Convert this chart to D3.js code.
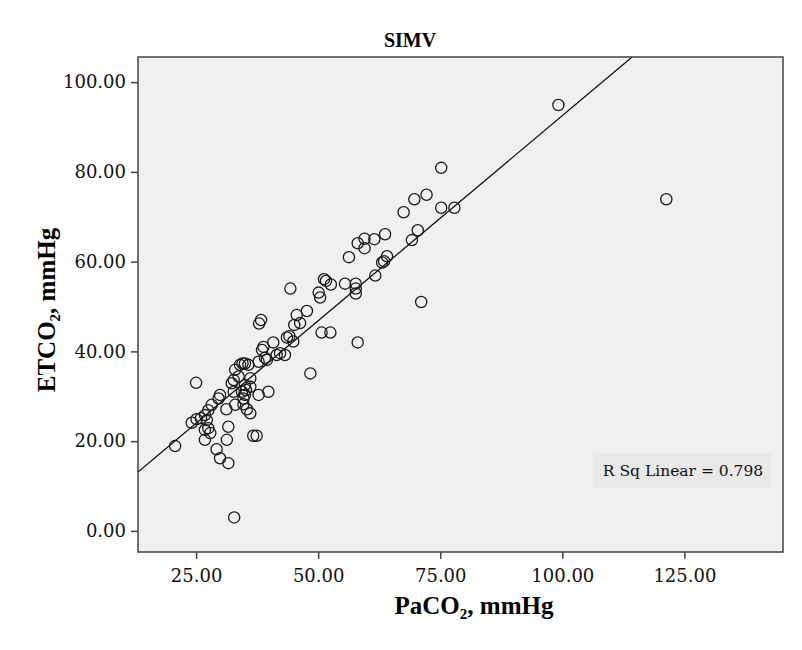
<!DOCTYPE html>
<html>
<head>
<meta charset="utf-8">
<script src="https://cdn.jsdelivr.net/npm/d3@7"></script>
<style>
  body { margin: 0; background: #fff; }
  svg { display: block; }
</style>
</head>
<body>
<svg id="chart" width="802" height="650"></svg>
<script>
// PaCO2 (x) and ETCO2 (y), mmHg
const paco2 = [
  99.2, 121.3, 75.2, 69.7, 72.2, 67.5, 75.2, 77.9, 70.4, 69.2,
  71.1, 63.7, 61.5, 59.5, 58.1, 59.5, 56.3, 64.1, 63.5, 63.1,
  61.7, 57.7, 57.7, 57.7, 55.5, 51.2, 51.6, 52.6, 50.1, 50.4,
  44.3, 45.6, 47.7, 46.3, 45.1, 50.7, 52.5, 58.1, 43.6, 44.1,
  44.9, 40.8, 38.8, 38.5, 42.2, 43.2, 41.5, 39.5, 37.8, 38.3,
  37.9, 48.4, 35.0, 35.7, 34.0, 34.5, 33.0, 33.7, 36.1, 32.7,
  32.3, 35.0, 36.1, 32.7, 34.4, 35.0, 34.7, 39.8, 37.8, 29.9,
  29.6, 33.0, 34.7, 31.2, 35.4, 36.1, 28.2, 27.5, 26.8, 25.0,
  20.7, 32.8, 24.1, 25.1, 26.0, 27.2, 26.8, 27.5, 26.8, 31.6,
  31.3, 29.2, 29.9, 31.6, 36.7, 37.4, 39.1, 35.2, 27.9
];
const etco2 = [
  94.9, 73.9, 80.9, 73.9, 74.9, 71.0, 72.0, 72.0, 67.0, 64.8,
  51.0, 66.1, 65.0, 65.1, 64.1, 63.0, 61.0, 61.2, 60.1, 59.8,
  56.9, 55.1, 54.0, 52.9, 55.1, 56.1, 55.7, 54.9, 53.1, 52.0,
  54.0, 48.1, 49.0, 46.3, 45.9, 44.2, 44.2, 42.0, 43.1, 43.4,
  42.2, 42.0, 41.0, 40.3, 39.6, 39.2, 39.2, 38.1, 37.7, 47.0,
  46.2, 35.1, 37.3, 37.0, 37.0, 37.3, 35.9, 34.4, 34.0, 33.6,
  32.9, 32.5, 32.1, 31.0, 31.0, 30.3, 29.5, 31.0, 30.3, 30.3,
  29.5, 28.1, 28.2, 27.1, 27.1, 26.2, 28.1, 26.9, 25.8, 33.0,
  18.9, 3.0, 24.1, 24.9, 25.1, 24.7, 22.5, 22.9, 20.3, 23.2,
  20.3, 18.2, 16.2, 15.1, 21.2, 21.2, 38.6, 31.4, 21.8
];
const xTicks = [25, 50, 75, 100, 125];
const yTicks = [0, 20, 40, 60, 80, 100];
const fitIntercept = 1.13;
const fitSlope = 0.914;
const rSqLabel = "R Sq Linear = 0.798";
const chartTitle = "SIMV";

const svg = d3.select("#chart");
const L = 138, T = 57, R = 783, B = 552;

const x = d3.scaleLinear().domain([13.1, 145.2]).range([L, R]);
const y = d3.scaleLinear().domain([-4.7, 105.6]).range([B, T]);
const fmt = d3.format(".2f");

// plot background
svg.append("rect")
  .attr("x", L).attr("y", T).attr("width", R - L).attr("height", B - T)
  .attr("fill", "#f0f0f0");

svg.append("defs").append("clipPath").attr("id", "clip")
  .append("rect").attr("x", L).attr("y", T).attr("width", R - L).attr("height", B - T);

// R sq label box
const boxG = svg.append("g");
boxG.append("rect")
  .attr("x", 593).attr("y", 453).attr("width", 178).attr("height", 35)
  .attr("fill", "#e9e9e9");
boxG.append("text")
  .attr("x", 683).attr("y", 476)
  .attr("text-anchor", "middle")
  .attr("font-family", "DejaVu Serif")
  .attr("font-size", 15.5)
  .attr("fill", "#111")
  .text(rSqLabel);

// fit line
const xd = x.domain();
svg.append("line")
  .attr("clip-path", "url(#clip)")
  .attr("x1", x(xd[0])).attr("y1", y(fitIntercept + fitSlope * xd[0]))
  .attr("x2", x(xd[1])).attr("y2", y(fitIntercept + fitSlope * xd[1]))
  .attr("stroke", "#111").attr("stroke-width", 1.3);

// points
const pts = paco2.map((v, i) => ({ x: v, y: etco2[i] }));
svg.append("g").attr("clip-path", "url(#clip)")
  .selectAll("circle").data(pts).join("circle")
  .attr("cx", d => x(d.x)).attr("cy", d => y(d.y))
  .attr("r", 5.6)
  .attr("fill", "none")
  .attr("stroke", "#1a1a1a")
  .attr("stroke-width", 1.3);

// frame
svg.append("rect")
  .attr("x", L).attr("y", T).attr("width", R - L).attr("height", B - T)
  .attr("fill", "none").attr("stroke", "#444").attr("stroke-width", 1.5);

// axes
const xAxis = svg.append("g")
  .attr("transform", `translate(0,${B})`)
  .call(d3.axisBottom(x).tickValues(xTicks).tickFormat(fmt).tickSize(7).tickPadding(10));
const yAxis = svg.append("g")
  .attr("transform", `translate(${L},0)`)
  .call(d3.axisLeft(y).tickValues(yTicks).tickFormat(fmt).tickSize(7).tickPadding(5));
[xAxis, yAxis].forEach(g => {
  g.select(".domain").remove();
  g.selectAll(".tick line").attr("stroke", "#444").attr("stroke-width", 1.5);
  g.selectAll(".tick text")
    .attr("font-family", "DejaVu Serif")
    .attr("font-size", 18)
    .attr("fill", "#111");
});

// title
svg.append("text")
  .attr("x", 410).attr("y", 47)
  .attr("text-anchor", "middle")
  .attr("font-family", "Liberation Serif")
  .attr("font-weight", "bold")
  .attr("font-size", 20)
  .attr("fill", "#000")
  .text(chartTitle);

// axis titles
function axisTitle(sel, main, rest) {
  sel.attr("font-family", "Liberation Serif")
    .attr("font-weight", "bold")
    .attr("font-size", 25)
    .attr("fill", "#000")
    .attr("text-anchor", "middle");
  sel.append("tspan").text(main);
  sel.append("tspan").attr("font-size", 15).attr("dy", 5).text("2");
  sel.append("tspan").attr("dy", -5).text(rest);
}
axisTitle(svg.append("text").attr("x", 474).attr("y", 614), "PaCO", ", mmHg");
axisTitle(svg.append("text").attr("transform", "translate(55,310) rotate(-90)"), "ETCO", ", mmHg");
</script>
</body>
</html>
